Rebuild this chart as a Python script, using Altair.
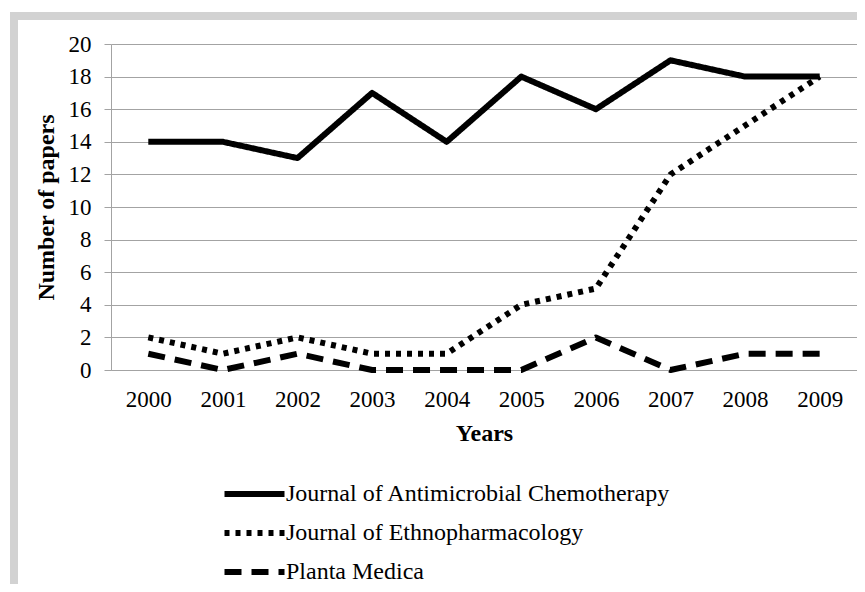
import altair as alt
import pandas as pd

years = ["2000", "2001", "2002", "2003", "2004", "2005", "2006", "2007", "2008", "2009"]
series_names = [
    "Journal of Antimicrobial Chemotherapy",
    "Journal of Ethnopharmacology",
    "Planta Medica",
]
jac = [14, 14, 13, 17, 14, 18, 16, 19, 18, 18]
je = [2, 1, 2, 1, 1, 4, 5, 12, 15, 18]
pm = [1, 0, 1, 0, 0, 0, 2, 0, 1, 1]
y_ticks = [0, 2, 4, 6, 8, 10, 12, 14, 16, 18, 20]

rows = []
for name, vals in zip(series_names, [jac, je, pm]):
    for yr, v in zip(years, vals):
        rows.append({"Year": yr, "Papers": v, "Journal": name})
df = pd.DataFrame(rows)

GRID = "#a3a3a3"
FONT = "Liberation Serif"

frame = alt.Chart(pd.DataFrame({"k": [0]})).mark_rect(
    fill="transparent", stroke="#d2d2d2", strokeWidth=8
).encode(
    x=alt.value(-97), x2=alt.value(900), y=alt.value(-28), y2=alt.value(700)
)

lines = alt.Chart(df).mark_line(
    color="black", strokeWidth=6, strokeCap="butt", strokeJoin="round"
).encode(
    x=alt.X("Year:O", sort=years, scale=alt.Scale(padding=0.5),
            axis=alt.Axis(title="Years", labelAngle=0, ticks=False, grid=False,
                          domainColor=GRID, labelFontSize=23, labelPadding=18,
                          titleFontSize=24, titleFontWeight="bold", titlePadding=10)),
    y=alt.Y("Papers:Q", scale=alt.Scale(domain=[0, 20], nice=False),
            axis=alt.Axis(title="Number of papers", values=y_ticks, grid=True,
                          gridColor=GRID, domainColor=GRID, tickColor=GRID,
                          tickSize=7, labelPadding=13, labelFontSize=23,
                          titleFontSize=24, titleFontWeight="bold", titlePadding=10)),
    strokeDash=alt.StrokeDash(
        "Journal:N",
        scale=alt.Scale(domain=series_names, range=[[1, 0], [5, 6], [17, 10]]),
        legend=alt.Legend(
            title=None, orient="none", legendX=130.5, legendY=437,
            direction="vertical", symbolType="M-3,0H3", symbolSize=400,
            symbolStrokeWidth=6, symbolStrokeColor="black",
            symbolFillColor="transparent", labelOffset=18.5, labelFontSize=24,
            labelFont=FONT, rowPadding=14, padding=0, labelLimit=700,
        ),
    ),
)

chart = alt.layer(frame, lines).properties(
    width=746, height=326,
    autosize=alt.AutoSizeParams(type="none"),
    padding={"left": 103, "top": 36, "right": 0, "bottom": 214},
    background="white",
).configure_view(stroke=None).configure_axis(
    labelFont=FONT, titleFont=FONT, labelColor="black", titleColor="black"
).configure_legend(labelColor="black")

chart.save("out.html", embed_options={"renderer": "svg", "actions": False})
